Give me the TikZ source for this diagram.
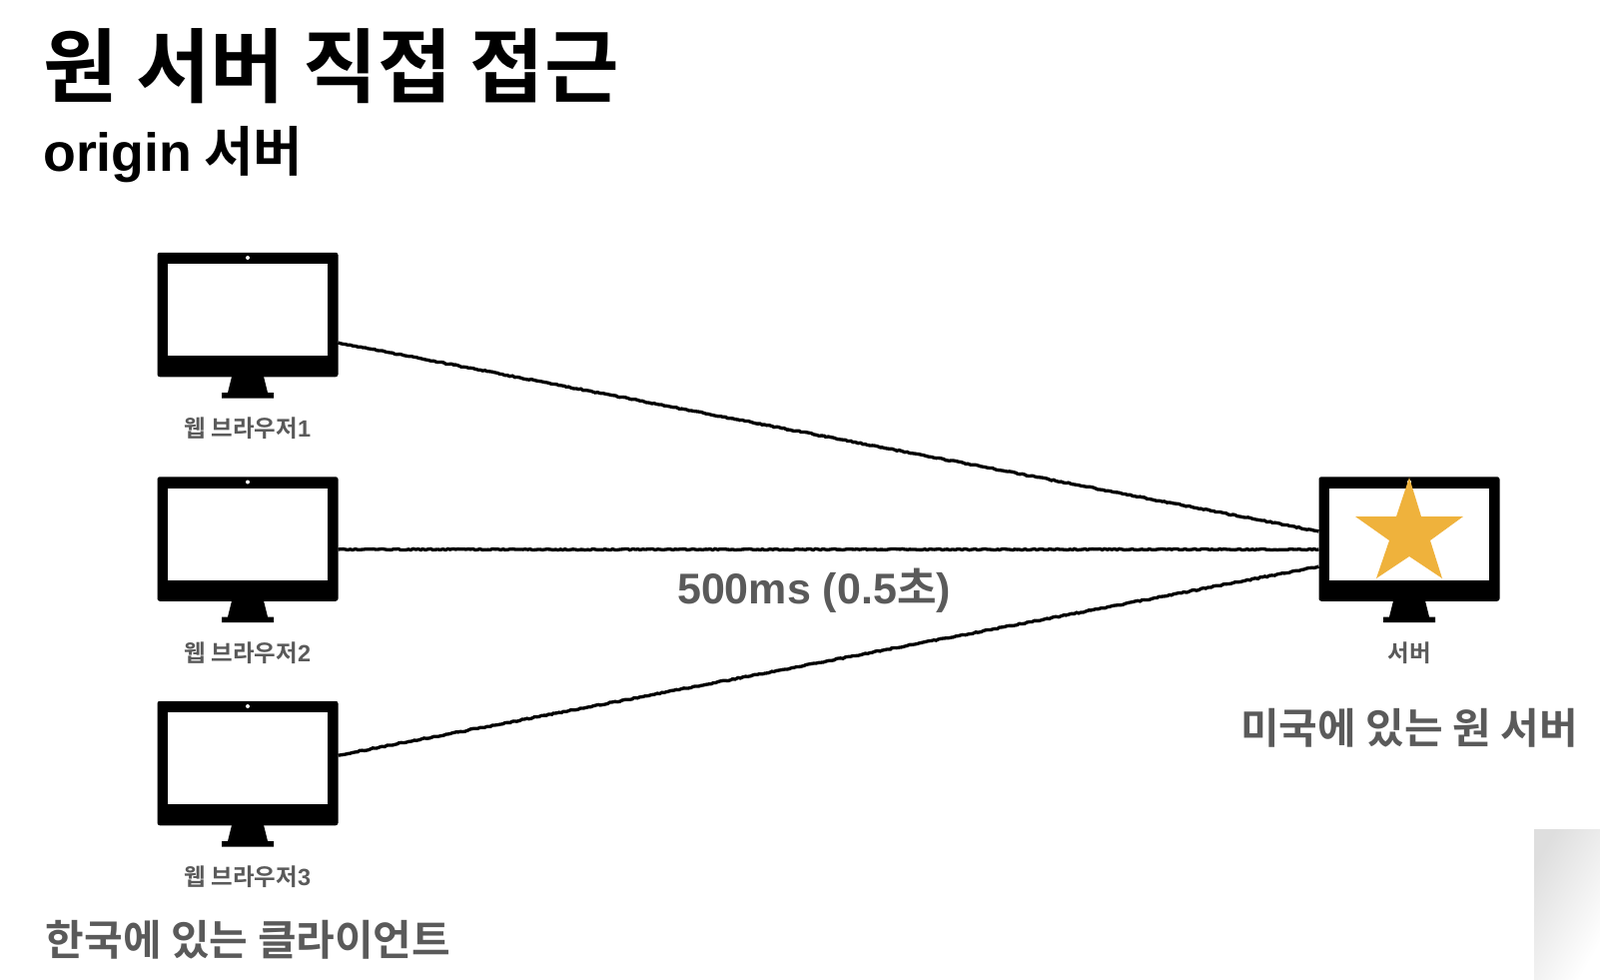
\documentclass[tikz,border=0pt]{standalone}
\usepackage{fontspec}
\newfontfamily\kr{Noto Sans CJK KR}[BoldFont={Noto Sans CJK KR Bold}]
\newfontfamily\lat{Liberation Sans}
\newcommand{\ltn}[1]{{\lat\bfseries #1}}
\usetikzlibrary{decorations.pathmorphing}
\definecolor{lbl}{HTML}{5A5A5A}
\definecolor{starc}{HTML}{EFB23C}
\tikzset{
  x=1pt,y=-1pt,
  monitorbody/.style={fill=black,rounded corners=2.5pt,minimum width=181pt,minimum height=124.5pt,inner sep=0pt,outer sep=0pt},
  wire/.style={draw=black,line width=3.3pt,decorate,decoration={random steps,segment length=2.5pt,amplitude=.6pt}},
  smalllbl/.style={text=lbl,font=\kr\bfseries\fontsize{23.5}{26}\selectfont,inner sep=0pt},
  midlbl/.style={text=lbl,font=\kr\bfseries\fontsize{42}{46}\selectfont,inner sep=0pt},
  monitor/.pic={
    \fill[white] (-80,-51) rectangle (80,41);
    \fill[white] (0,-57) circle (2);
    \fill[black] (-16,62) -- (16,62) -- (20,78) -- (26,78) -- (26,83.5) -- (-26,83.5) -- (-26,78) -- (-20,78) -- cycle;
  }
}
\begin{document}
\begin{tikzpicture}
\useasboundingbox (0,0) rectangle (1602,980);
\fill[white] (0,0) rectangle (1602,980);
\shade[left color=black!13,right color=white,shading angle=60] (1536,830) rectangle (1602,980);

\node[anchor=west,inner sep=0pt,font=\kr\bfseries\fontsize{81}{88}\selectfont] (title) at (43,66) {원 서버 직접 접근};
\node[anchor=west,inner sep=0pt,font=\kr\bfseries\fontsize{53.7}{60}\selectfont] (subtitle) at (43,155) {\ltn{origin} 서버};

\node[monitorbody] (m1) at (248,315) {};
\node[monitorbody] (m2) at (248,539.5) {};
\node[monitorbody] (m3) at (248,764) {};
\node[monitorbody] (srv) at (1411,539.5) {};
\pic at (248,315) {monitor};
\pic at (248,539.5) {monitor};
\pic at (248,764) {monitor};
\pic at (1411,539.5) {monitor};

\fill[starc] (1411,478) -- (1423,517) -- (1465,517) -- (1432,541) -- (1444,579) -- (1411,557) -- (1378,579) -- (1391,541) -- (1357,517) -- (1398,517) -- cycle;

\coordinate (a1) at (m1.east |- 0,343);
\coordinate (a2) at (m2.east |- 0,550);
\coordinate (a3) at (m3.east |- 0,756);
\coordinate (b1) at (srv.west |- 0,532);
\coordinate (b2) at (srv.west |- 0,550);
\coordinate (b3) at (srv.west |- 0,567);
\draw[wire] (a1) -- (b1);
\draw[wire] (a2) -- (b2);
\draw[wire] (a3) -- (b3);

\node[smalllbl] (l1) at (248,429) {웹 브라우저\ltn{1}};
\node[smalllbl] (l2) at (248,653.5) {웹 브라우저\ltn{2}};
\node[smalllbl] (l3) at (248,878) {웹 브라우저\ltn{3}};
\node[smalllbl] (l4) at (1411,653.5) {서버};
\node[midlbl,font=\kr\bfseries\fontsize{43}{46}\selectfont] (t1) at (815,591.5) {\ltn{500ms (0.5}초\ltn{)}};
\node[midlbl] (t2) at (1411,729) {미국에 있는 원 서버};
\node[midlbl] (t3) at (248.5,941) {한국에 있는 클라이언트};
\end{tikzpicture}
\end{document}
